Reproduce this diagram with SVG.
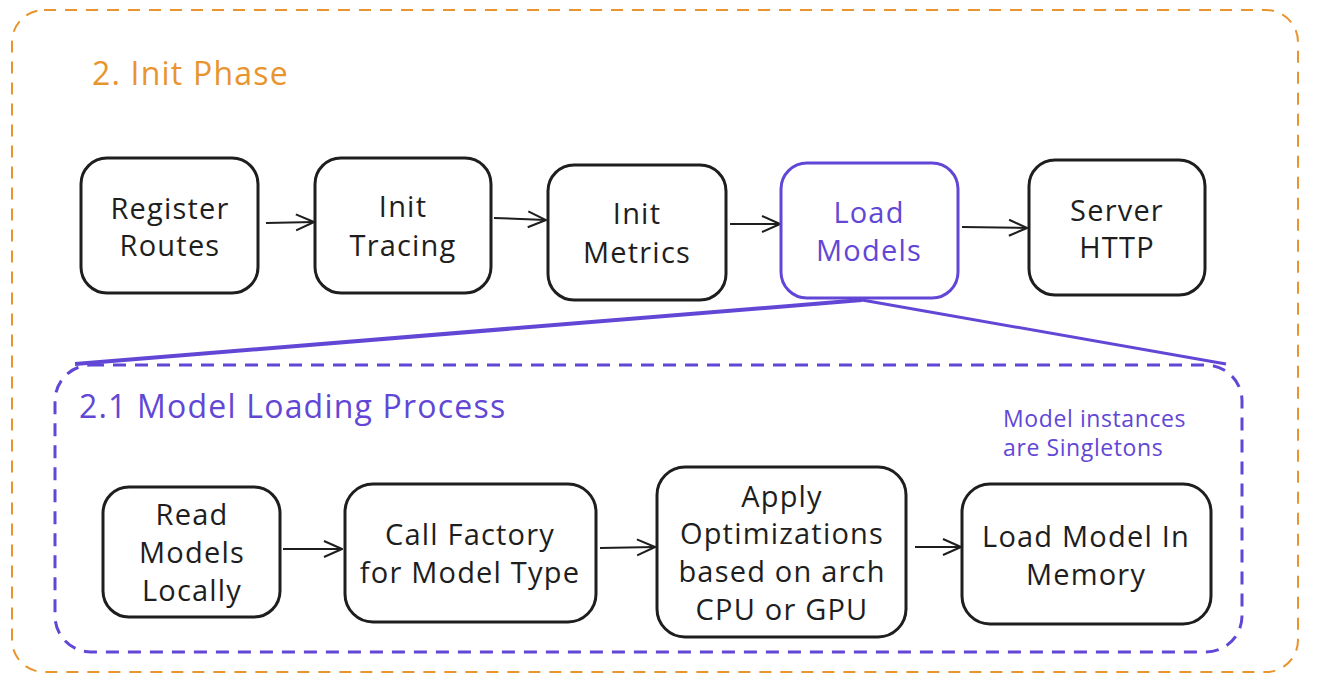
<svg xmlns="http://www.w3.org/2000/svg" width="1320" height="690" viewBox="0 0 1320 690">
<style>
.box{fill:#fff;stroke:#1e1e1e;stroke-width:3}
.pbox{fill:#fff;stroke:#6247d6;stroke-width:3}
.t{font-family:"Open Sans","Liberation Sans",sans-serif;font-size:29px;font-weight:500;letter-spacing:1.2px;fill:#1e1e1e;text-anchor:middle;dominant-baseline:central}
.pt{fill:#6247d6}
.ttl{font-size:32px;letter-spacing:1.2px;text-anchor:start}
.ar{fill:none;stroke:#1e1e1e;stroke-width:2;marker-end:url(#ah)}
</style>
<defs>
<marker id="ah" viewBox="0 0 20 20" refX="19" refY="10" markerWidth="20" markerHeight="20" markerUnits="userSpaceOnUse" orient="auto">
<polyline points="1,2 19,10 1,18" fill="none" stroke="#1e1e1e" stroke-width="2"/>
</marker>
</defs>
<rect id="outer" x="12" y="10" width="1286" height="662" rx="32" fill="none" stroke="#e8952f" stroke-width="2" stroke-dasharray="12 9"/>
<text x="92" y="72" class="t ttl" style="fill:#e8952f">2. Init Phase</text>
<g id="connectors">
<line class="ar" x1="266" y1="223" x2="314" y2="222"/>
<line class="ar" x1="494" y1="218" x2="546" y2="220"/>
<line class="ar" x1="730" y1="224" x2="780" y2="224"/>
<line class="ar" x1="962" y1="227" x2="1027" y2="228"/>
<line x1="862" y1="300" x2="75" y2="364" stroke="#6247d6" stroke-width="4"/>
<line x1="862" y1="300" x2="1226" y2="364" stroke="#6247d6" stroke-width="3"/>
<line class="ar" x1="283" y1="549" x2="342" y2="549"/>
<line class="ar" x1="600" y1="548" x2="655" y2="547"/>
<line class="ar" x1="915" y1="547" x2="961" y2="547"/>
</g>
<rect id="inner" x="55" y="365" width="1187" height="287" rx="36" fill="none" stroke="#6247d6" stroke-width="3" stroke-dasharray="13 9"/>
<text x="79" y="405" class="t pt ttl">2.1 Model Loading Process</text>
<g id="note">
<text x="1003" y="418" class="t pt" style="text-anchor:start;font-size:23px;letter-spacing:0.6px">Model instances</text>
<text x="1003" y="447" class="t pt" style="text-anchor:start;font-size:23px;letter-spacing:0.6px">are Singletons</text>
</g>
<g id="register">
<rect class="box" x="81" y="158" width="177" height="135" rx="26"/>
<text class="t" x="170" y="207">Register</text>
<text class="t" x="170" y="244">Routes</text>
</g>
<g id="tracing">
<rect class="box" x="315" y="158" width="176" height="135" rx="26"/>
<text class="t" x="403" y="205">Init</text>
<text class="t" x="403" y="244">Tracing</text>
</g>
<g id="metrics">
<rect class="box" x="548" y="165" width="178" height="135" rx="26"/>
<text class="t" x="637" y="212">Init</text>
<text class="t" x="637" y="251">Metrics</text>
</g>
<g id="loadmodels">
<rect class="pbox" x="781" y="163" width="177" height="135" rx="26"/>
<text class="t pt" x="869" y="211">Load</text>
<text class="t pt" x="869" y="249">Models</text>
</g>
<g id="server">
<rect class="box" x="1029" y="160" width="176" height="135" rx="26"/>
<text class="t" x="1117" y="209">Server</text>
<text class="t" x="1117" y="246">HTTP</text>
</g>
<g id="read">
<rect class="box" x="103" y="487" width="177" height="130" rx="26"/>
<text class="t" x="192" y="513">Read</text>
<text class="t" x="192" y="551">Models</text>
<text class="t" x="192" y="589">Locally</text>
</g>
<g id="factory">
<rect class="box" x="345" y="484" width="251" height="138" rx="28"/>
<text class="t" x="470" y="533">Call Factory</text>
<text class="t" x="470" y="571">for Model Type</text>
</g>
<g id="optim">
<rect class="box" x="657" y="467" width="249" height="170" rx="28"/>
<text class="t" x="782" y="495">Apply</text>
<text class="t" x="782" y="532">Optimizations</text>
<text class="t" x="782" y="570">based on arch</text>
<text class="t" x="782" y="608">CPU or GPU</text>
</g>
<g id="loadmem">
<rect class="box" x="962" y="484" width="249" height="140" rx="28"/>
<text class="t" x="1086" y="535">Load Model In</text>
<text class="t" x="1086" y="573">Memory</text>
</g>
</svg>
